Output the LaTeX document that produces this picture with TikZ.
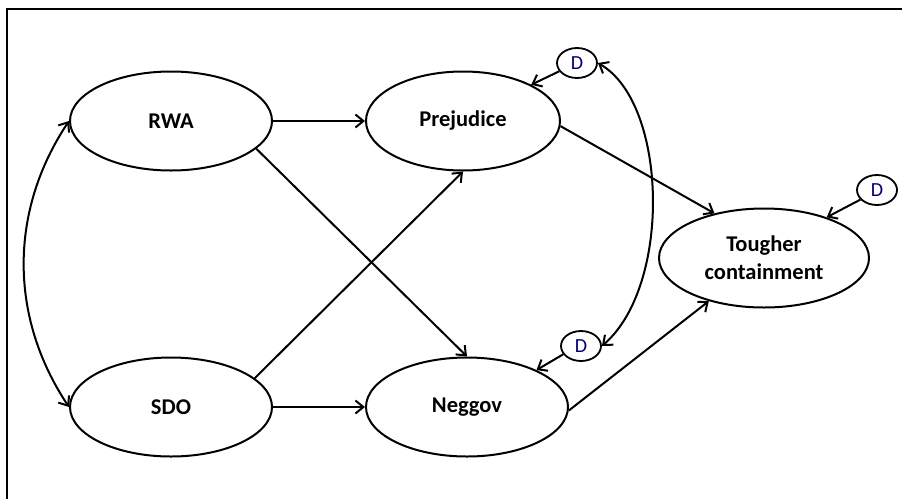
\documentclass[tikz,border=0pt]{standalone}
\usepackage{fontspec}
\setmainfont{Carlito}
\usetikzlibrary{positioning,shapes.geometric,arrows.meta}

\begin{document}
\begin{tikzpicture}[x=1pt,y=-1pt,
latentnode/.style={ellipse, draw, line width=2pt, minimum width=202pt, minimum height=99pt, inner sep=0pt, align=center, font=\fontsize{22.5}{28}\selectfont\bfseries},
errnode/.style={ellipse, draw, line width=1.8pt, minimum width=40pt, minimum height=30pt, inner sep=0pt, text=blue!45!black, font=\fontsize{20}{22}\selectfont},
arrowline/.style={-{Straight Barb[length=8pt,width=13pt]}, line width=2pt},
arrowboth/.style={{Straight Barb[length=8pt,width=13pt]}-{Straight Barb[length=8pt,width=13pt]}, line width=2pt},
]
\useasboundingbox (0,0) rectangle (902,499);
\draw[line width=2.2pt] (7,499) -- (7,9) -- (902,9);

%Nodes
\node[latentnode]                        (rwa)       at (171,121)          {RWA};
\node[latentnode, minimum width=194pt]   (prejudice) [right=92pt of rwa]   {Prejudice};
\node[latentnode]                        (sdo)       [below=185pt of rwa]  {SDO};
\node[latentnode]                        (neggov)    [right=92pt of sdo]   {Neggov};
\node[latentnode, minimum width=210pt]   (tougher)   at (764,258)          {Tougher\\containment};

\node[errnode] (dprej)   at (577,63)  {D};
\node[errnode] (dneg)    at (581,346) {D};
\node[errnode] (dtough)  at (877,190) {D};

%Lines
\draw[arrowline] (rwa) -- (prejudice);
\draw[arrowline] (sdo) -- (neggov);
\draw[arrowline] (rwa.-18) -- (neggov.north);
\draw[arrowline] (sdo.19) -- (prejudice.south);
\draw[arrowline] (prejudice.-3) -- (tougher.138);
\draw[arrowline] (neggov.-2) -- (tougher.-142);

\draw[arrowline] (dprej.205) -- (prejudice.28);
\draw[arrowline] (dneg.205) -- (neggov.28);
\draw[arrowline] (dtough.210) -- (tougher.33);

\draw[arrowboth] (rwa.west) .. controls +(-60,90) and +(-60,-90) .. (sdo.west);
\draw[arrowboth] (dprej.east) .. controls +(70,40) and +(70,-60) .. (dneg.east);
\end{tikzpicture}
\end{document}
